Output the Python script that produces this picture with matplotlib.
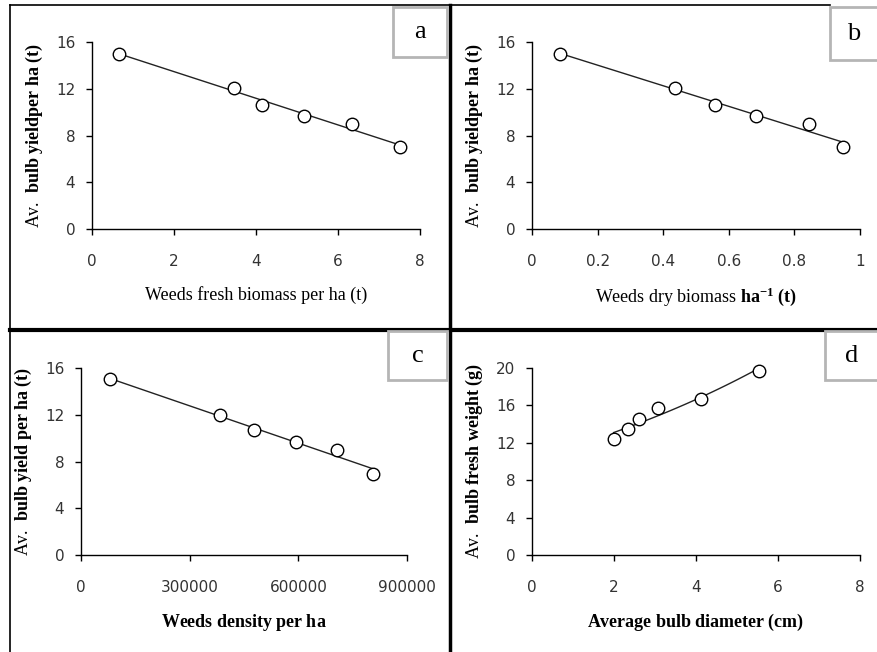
import matplotlib
matplotlib.use("Agg")
import matplotlib.pyplot as plt
from matplotlib.lines import Line2D
from matplotlib.patches import Rectangle
import numpy as np

plt.rcParams['mathtext.fontset'] = 'custom'
plt.rcParams['mathtext.rm'] = 'Liberation Serif'
plt.rcParams['mathtext.bf'] = 'Liberation Serif:bold'
plt.rcParams['mathtext.it'] = 'Liberation Serif:italic'

# data
yield_t = [15.0, 12.05, 10.65, 9.7, 8.95, 7.0]
fresh_biomass = [0.66, 3.46, 4.15, 5.17, 6.35, 7.51]
dry_biomass = [0.085, 0.437, 0.559, 0.682, 0.845, 0.948]
yield_c = [15.05, 12.0, 10.7, 9.65, 8.95, 6.95]
weed_density = [79000, 383000, 477000, 593000, 708000, 807000]
bulb_diam = [1.99, 2.34, 2.61, 3.07, 4.11, 5.53]
bulb_weight = [12.44, 13.51, 14.58, 15.72, 16.65, 19.68]

W, H = 878, 652


def fx(px):
    return px / W


def fy(py):
    return 1 - py / H


fig = plt.figure(figsize=(8.78, 6.52), dpi=100)

panels = [
    dict(x=fresh_biomass, y=yield_t, rect=(92, 42, 420, 229), xlim=(0, 8), xt=np.arange(0, 9, 2),
         xtl=None, ylim=(0, 16), yt=np.arange(0, 17, 4), fit='lin',
         xlabel="Weeds fresh biomass per ha (t)",
         ylabel=r"Av.  $\mathbf{bulb\ yield per\ ha\ (t)}$", tag='a', box=(393, 7, 447, 57)),
    dict(x=dry_biomass, y=yield_t, rect=(532, 42, 860, 229), xlim=(0, 1), xt=np.arange(0, 1.01, 0.2),
         xtl=['0', '0.2', '0.4', '0.6', '0.8', '1'], ylim=(0, 16), yt=np.arange(0, 17, 4), fit='lin',
         xlabel=r"Weeds dry biomass $\mathbf{ha^{-1}\ (t)}$",
         ylabel=r"Av.  $\mathbf{bulb\ yield per\ ha\ (t)}$", tag='b', box=(830, 7, 882, 60)),
    dict(x=weed_density, y=yield_c, rect=(81, 368, 407, 555), xlim=(0, 900000),
         xt=np.arange(0, 900001, 300000), xtl=None, ylim=(0, 16), yt=np.arange(0, 17, 4), fit='lin',
         xlabel=r"$\mathbf{Weeds\ density\ per\ ha}$",
         ylabel=r"Av.  $\mathbf{bulb\ yield\ per\ ha\ (t)}$", tag='c', box=(388, 331, 447, 380)),
    dict(x=bulb_diam, y=bulb_weight, rect=(532, 368, 860, 555), xlim=(0, 8), xt=np.arange(0, 9, 2),
         xtl=None, ylim=(0, 20), yt=np.arange(0, 21, 4), fit='exp',
         xlabel=r"$\mathbf{Average\ bulb\ diameter\ (cm)}$",
         ylabel=r"Av.  $\mathbf{bulb\ fresh\ weight\ (g)}$", tag='d', box=(825, 331, 882, 380)),
]

for p in panels:
    l, t, r, b = p['rect']
    ax = fig.add_axes([fx(l), fy(b), fx(r) - fx(l), fy(t) - fy(b)])
    x = np.array(p['x'], dtype=float)
    y = np.array(p['y'], dtype=float)
    xs = np.linspace(x.min(), x.max(), 100)
    if p['fit'] == 'lin':
        k, c = np.polyfit(x, y, 1)
        ys = k * xs + c
    else:
        k, c = np.polyfit(x, np.log(y), 1)
        ys = np.exp(c) * np.exp(k * xs)
    ax.plot(xs, ys, color='#222222', lw=1.0, zorder=2)
    ax.plot(x, y, 'o', ms=9, mfc='white', mec='black', mew=1.0, zorder=3, clip_on=False)
    ax.set_xlim(*p['xlim'])
    ax.set_ylim(*p['ylim'])
    ax.set_xticks(p['xt'])
    if p['xtl'] is not None:
        ax.set_xticklabels(p['xtl'])
    else:
        ax.set_xticklabels([str(int(v)) for v in p['xt']])
    ax.set_yticks(p['yt'])
    ax.spines['top'].set_visible(False)
    ax.spines['right'].set_visible(False)
    for s in ('left', 'bottom'):
        ax.spines[s].set_linewidth(1.0)
    ax.tick_params(axis='x', direction='out', length=4, width=1, pad=14, labelsize=11, labelcolor='#333333')
    ax.tick_params(axis='y', direction='out', length=4, width=1, pad=8, labelsize=11, labelcolor='#333333')
    ax.patch.set_alpha(0)
    ax.set_xlabel(p['xlabel'], fontsize=13, family='Liberation Serif', labelpad=12)
    ax.set_ylabel(p['ylabel'], fontsize=13, family='Liberation Serif', labelpad=8)

    bl, bt, br, bb = p['box']
    fig.add_artist(Rectangle((fx(bl), fy(bb)), fx(br) - fx(bl), fy(bt) - fy(bb),
                             transform=fig.transFigure, facecolor='white', edgecolor='#b5b5b5',
                             lw=2, zorder=5))
    fig.text(fx((bl + min(br, W)) / 2), fy((bt + bb) / 2), p['tag'], fontsize=19,
             family='Liberation Serif', ha='center', va='center', zorder=6)

# panel frame lines
frame = [
    ((10, 830), (5, 5), 1.2),
    ((10, 10), (5, 652), 1.2),
    ((450, 450), (5, 652), 2.5),
    ((10, 878), (330, 330), 3.0),
]
for xs_, ys_, lw in frame:
    fig.add_artist(Line2D([fx(v) for v in xs_], [fy(v) for v in ys_], color='black', lw=lw,
                          transform=fig.transFigure, zorder=4))

fig.savefig("out.png", dpi=100)
